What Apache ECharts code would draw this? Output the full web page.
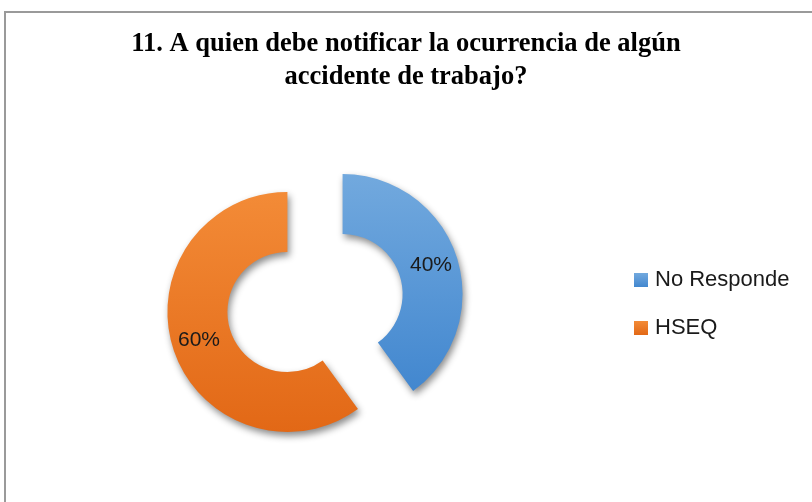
<!DOCTYPE html>
<html>
<head>
<meta charset="utf-8">
<script src="https://cdn.jsdelivr.net/npm/echarts@6/dist/echarts.min.js"></script>
<style>
  html, body { margin: 0; padding: 0; background: #fff; }
  #chart { width: 812px; height: 502px; }
</style>
</head>
<body>
<div id="chart"></div>
<script>
// datos del gráfico
const categories = ['No Responde', 'HSEQ'];
const values = [40, 60];
const titleText = '11. A quien debe notificar la ocurrencia de algún\naccidente de trabajo?';

const gradients = [
    ['#72a9de', '#4287cf'],
    ['#f38b37', '#e26816']
];

const chart = echarts.init(document.getElementById('chart'));

const option = {
    animation: false,
    title: {
        text: titleText,
        left: 'center',
        top: 23,
        padding: [5, 5, 5, 5],
        textStyle: {
            fontFamily: '"Liberation Serif", "Times New Roman", serif',
            fontWeight: 'bold',
            fontSize: 26.5,
            lineHeight: 33,
            color: '#000'
        }
    },
    legend: {
        orient: 'vertical',
        left: 634,
        top: 269,
        padding: 0,
        itemWidth: 14,
        itemHeight: 14,
        itemGap: 26,
        icon: 'rect',
        textStyle: {
            fontFamily: '"Liberation Sans", Arial, sans-serif',
            fontSize: 22,
            color: '#1a1a1a',
            padding: [0, 0, 0, 2]
        },
        data: categories
    },
    graphic: [{
        type: 'rect',
        shape: { x: 5, y: 12, width: 830, height: 520 },
        style: { fill: 'none', stroke: '#9a9a9a', lineWidth: 2 },
        silent: true
    }],
    series: [{
        type: 'pie',
        center: [315, 303],
        radius: [60, 120],
        startAngle: 90,
        clockwise: true,
        selectedMode: 'multiple',
        selectedOffset: 29,
        emphasis: { disabled: true },
        label: {
            show: true,
            position: 'inside',
            formatter: '{d}%',
            fontFamily: '"Liberation Sans", Arial, sans-serif',
            fontSize: 21,
            color: '#1a1a1a',
            padding: [7, 0, 0, 0]
        },
        labelLine: { show: false },
        itemStyle: {
            shadowColor: 'rgba(0,0,0,0.45)',
            shadowBlur: 7,
            shadowOffsetX: 2,
            shadowOffsetY: 4
        },
        data: categories.map((name, i) => ({
            name: name,
            value: values[i],
            selected: true,
            itemStyle: {
                color: new echarts.graphic.LinearGradient(0, 0, 0, 1, [
                    { offset: 0, color: gradients[i][0] },
                    { offset: 1, color: gradients[i][1] }
                ])
            }
        }))
    }]
};

chart.setOption(option);
</script>
</body>
</html>
